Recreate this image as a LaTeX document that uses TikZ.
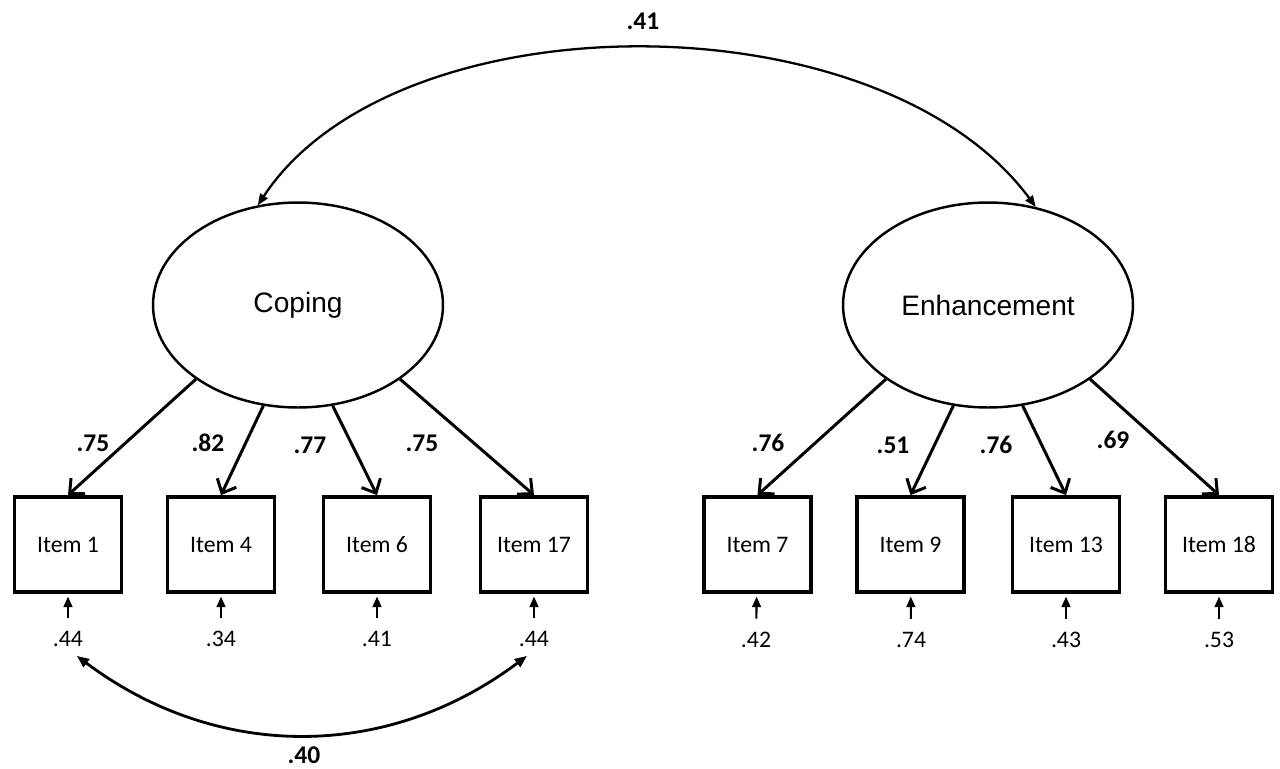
\documentclass[tikz,border=0pt]{standalone}
\usepackage{fontspec}
\setmainfont{Carlito}
\newfontfamily\latentfont{Liberation Sans}
\usetikzlibrary{arrows.meta,shapes.geometric}

\begin{document}
\begin{tikzpicture}[x=0.02cm,y=-0.02cm,
  latent/.style={draw, ellipse, line width=1.4pt, minimum width=5.8cm, minimum height=4.1cm, font=\latentfont\fontsize{16}{19}\selectfont},
  item/.style={draw, rectangle, line width=2.2pt, minimum width=2.14cm, minimum height=1.9cm, font=\fontsize{13.5}{16}\selectfont},
  loadlab/.style={font=\bfseries\fontsize{14.5}{17}\selectfont},
  errlab/.style={inner sep=2pt, font=\fontsize{13.5}{16}\selectfont},
  load/.style={line width=1.7pt, -{Straight Barb[length=6.5pt,width=12pt,line width=1.7pt]}},
  err/.style={line width=1.2pt, -{Triangle[length=6pt,width=5pt]}, shorten <=5.5pt, shorten >=1.5pt},
  cov/.style={line width=1.6pt, {Triangle[length=7pt,width=5.5pt]}-{Triangle[length=7pt,width=5.5pt]}},
  covtop/.style={line width=1.3pt, {Triangle[length=6.5pt,width=5pt]}-{Triangle[length=6.5pt,width=5pt]}}]
\useasboundingbox (0,0) rectangle (1280,768);

\node[latent] (cop) at (298,305) {Coping};
\node[latent] (enh) at (988,305) {Enhancement};

\node[item] (i1) at (68,544.5) {Item 1};
\node[item] (i4) at (221,544.5) {Item 4};
\node[item] (i6) at (377,544.5) {Item 6};
\node[item] (i17) at (534,544.5) {Item 17};
\node[item] (i7) at (757.5,544.5) {Item 7};
\node[item] (i9) at (910.5,544.5) {Item 9};
\node[item] (i13) at (1066,544.5) {Item 13};
\node[item] (i18) at (1219,544.5) {Item 18};

\draw[load] (cop.216) -- (i1.north);
\draw[load] (cop.251) -- (i4.north);
\draw[load] (cop.289) -- (i6.north);
\draw[load] (cop.324) -- (i17.north);
\draw[load] (enh.216) -- (i7.north);
\draw[load] (enh.251) -- (i9.north);
\draw[load] (enh.289) -- (i13.north);
\draw[load] (enh.324) -- (i18.north);

\node[loadlab] (l1) at (93,443) {.75};
\node[loadlab] (l4) at (208,443) {.82};
\node[loadlab] (l6) at (310,445) {.77};
\node[loadlab] (l17) at (422,443) {.75};
\node[loadlab] (l7) at (768,443) {.76};
\node[loadlab] (l9) at (893,445) {.51};
\node[loadlab] (l13) at (996,445) {.76};
\node[loadlab] (l18) at (1113,440) {.69};

\node[errlab] (e1) at (68,639) {.44};
\node[errlab] (e4) at (221,639) {.34};
\node[errlab] (e6) at (377,639) {.41};
\node[errlab] (e17) at (534,639) {.44};
\node[errlab] (e7) at (756,640) {.42};
\node[errlab] (e9) at (911,640) {.74};
\node[errlab] (e13) at (1066,640) {.43};
\node[errlab] (e18) at (1219,640) {.53};

\draw[err] (e1) -- (i1);
\draw[err] (e4) -- (i4);
\draw[err] (e6) -- (i6);
\draw[err] (e17) -- (i17);
\draw[err] (e7) -- (i7);
\draw[err] (e9) -- (i9);
\draw[err] (e13) -- (i13);
\draw[err] (e18) -- (i18);

\draw[covtop] (cop.112) .. controls (396,-4) and (880,-4) .. (enh.64);
\node[loadlab] (ctop) at (643,21) {.41};

\draw[cov] ([xshift=5pt,yshift=-3pt]e1.south) .. controls (217,761) and (387,761) .. ([xshift=-4pt,yshift=-3pt]e17.south);
\node[loadlab] (cbot) at (304,755) {.40};
\end{tikzpicture}
\end{document}
